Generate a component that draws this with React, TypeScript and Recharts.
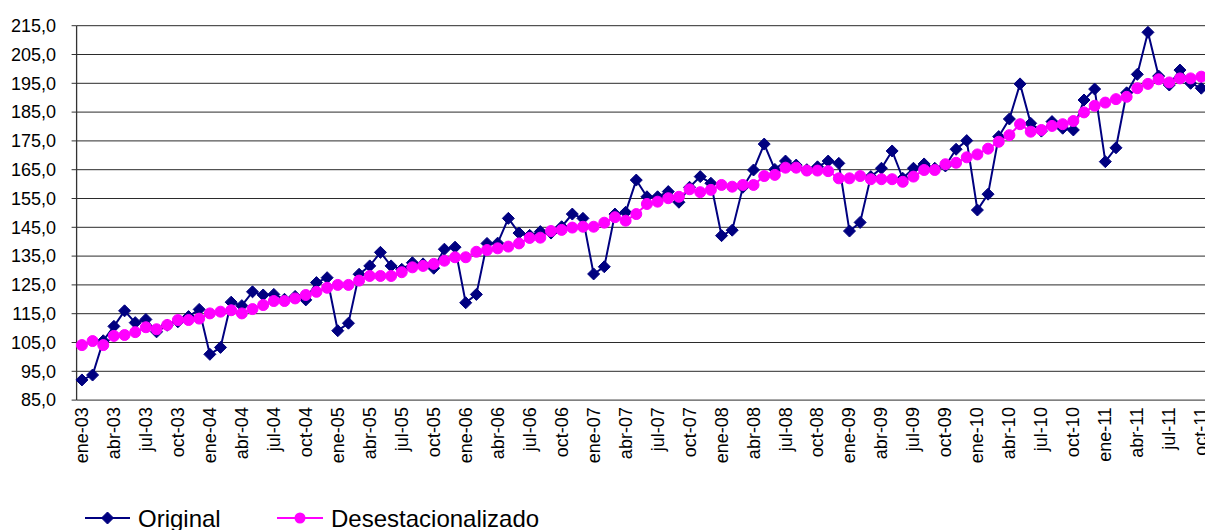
import { LineChart, Line, XAxis, YAxis, CartesianGrid } from 'recharts'

const MONTHS = ['ene', 'feb', 'mar', 'abr', 'may', 'jun', 'jul', 'ago', 'sep', 'oct', 'nov', 'dic']
const YEARS = ['03', '04', '05', '06', '07', '08', '09', '10', '11']

// ene-03 .. oct-11
const ORIGINAL = [
  92, 93.7, 105.6, 110.6, 116, 111.9, 113, 108.7, 111, 112.2, 114, 116.5,
  100.9, 103.3, 119, 117.8, 122.6, 121.5, 121.7, 120, 121, 119.8, 125.8, 127.5,
  109.1, 111.7, 128.7, 131.6, 136.3, 131.6, 130.4, 132.7, 132.3, 130.8, 137.4, 138.1,
  118.8, 121.7, 139.4, 139.5, 148.1, 143, 142.2, 143.5, 143, 145.2, 149.6, 148.1,
  128.8, 131.3, 149.6, 150.2, 161.4, 155.6, 155.6, 157.4, 153.7, 158.9, 162.6, 160.3,
  142.1, 144, 158.9, 164.9, 173.9, 165.1, 168, 166.6, 165, 166, 168, 167.2,
  143.7, 146.7, 162.6, 165.5, 171.5, 162, 165.5, 167, 165.5, 166.3, 172.1, 175.1,
  151, 156.5, 176.5, 182.6, 194.8, 181.1, 178.4, 181.7, 179.4, 178.8, 189.2, 193,
  167.8, 172.6, 191.7, 198.1, 212.7, 197.5, 194.4, 199.6, 195, 193.3,
]

const DESEST = [
  104.1, 105.5, 104.1, 107.3, 107.6, 108.6, 110.3, 109.6, 111.1, 112.8, 112.8, 113.3,
  115.1, 115.7, 116.2, 115.1, 116.6, 118, 119.4, 119.4, 120.3, 121.5, 122.6, 124,
  125, 125, 126.5, 128.1, 128.1, 128.1, 129.4, 131.1, 131.6, 132.3, 133.4, 134.6,
  134.6, 136.5, 137.1, 137.7, 138.3, 139.4, 141.3, 141.4, 143.7, 144.1, 144.9, 145.2,
  145.2, 146.6, 148.5, 147.3, 149.6, 153.1, 153.9, 155.1, 155.6, 158.2, 157.2, 158,
  159.7, 159.1, 159.7, 159.7, 162.8, 163.2, 165.7, 165.7, 164.7, 164.7, 164.5, 162,
  162, 162.8, 161.7, 161.7, 161.7, 160.8, 162.6, 164.9, 164.9, 166.9, 167.4, 169.3,
  170.3, 172.3, 174.7, 177, 180.8, 178.2, 178.8, 180.2, 180.8, 181.9, 184.9, 187.2,
  188.3, 189.5, 190.3, 193.3, 194.8, 196.4, 195.3, 196.7, 196.7, 197.3,
]

const Y_TICKS = [85, 95, 105, 115, 125, 135, 145, 155, 165, 175, 185, 195, 205, 215]

const CATEGORIES = YEARS.flatMap((y) => MONTHS.map((m) => `${m}-${y}`)).slice(0, ORIGINAL.length)

const NAVY = '#000080'
const MAGENTA = '#FF00FF'
const FONT = '"Liberation Sans", Arial, sans-serif'

const rows = CATEGORIES.map((c, i) => ({ idx: i, cat: c, original: ORIGINAL[i], desest: DESEST[i] }))
const lastIdx = rows.length - 1
const domainX: [number, number] = [-0.5, lastIdx + 0.5]
const boundaryTicks = Array.from({ length: rows.length + 1 }, (_, k) => k - 0.5)
const labelTicks = rows.filter((r) => r.idx % 3 === 0).map((r) => r.idx)

function Diamond(props: any) {
  const { cx, cy } = props
  if (cx == null || cy == null) return null
  const s = 6
  return (
    <path
      d={`M${cx},${cy - s}L${cx + s},${cy}L${cx},${cy + s}L${cx - s},${cy}Z`}
      fill={NAVY}
      stroke={NAVY}
      strokeWidth={1}
    />
  )
}

function BoundaryTick(props: any) {
  const { x, y, payload } = props
  const k = Math.round(payload.value + 0.5)
  const len = k % 3 === 0 ? 6 : 3
  return <line x1={x} x2={x} y1={y} y2={y + len} stroke="#333" strokeWidth={1} />
}

function MonthLabel(props: any) {
  const { x, y, payload } = props
  const label = CATEGORIES[payload.value] ?? ''
  const ty = y + 7
  return (
    <text
      x={x}
      y={ty}
      transform={`rotate(-90, ${x}, ${ty})`}
      textAnchor="end"
      dominantBaseline="central"
      fontSize={18}
      fill="#000"
    >
      {label}
    </text>
  )
}

export default function App() {
  return (
    <div
      style={{
        position: 'fixed',
        left: 0,
        top: 0,
        width: 1205,
        height: 530,
        overflow: 'hidden',
        background: '#fff',
        fontFamily: FONT,
      }}
    >
      <LineChart
        width={1215}
        height={530}
        data={rows}
        margin={{ top: 25.7, right: 8.4, bottom: 49.9, left: 0 }}
      >
        <CartesianGrid vertical={false} stroke="#2b2b2b" strokeWidth={1} />
        <XAxis
          dataKey="idx"
          type="number"
          domain={domainX}
          ticks={boundaryTicks}
          interval={0}
          tickLine={false}
          tickSize={0}
          tickMargin={0}
          height={0}
          axisLine={{ stroke: '#333', strokeWidth: 1.2 }}
          tick={<BoundaryTick />}
        />
        <XAxis
          xAxisId="lab"
          dataKey="idx"
          type="number"
          domain={domainX}
          ticks={labelTicks}
          interval={0}
          tickLine={false}
          axisLine={false}
          tickSize={0}
          tickMargin={0}
          height={80}
          tick={<MonthLabel />}
        />
        <YAxis
          type="number"
          domain={[85, 215]}
          ticks={Y_TICKS}
          interval={0}
          width={76.6}
          tickSize={5}
          tickMargin={15.6}
          tickLine={{ stroke: '#333' }}
          axisLine={{ stroke: '#333', strokeWidth: 1.3 }}
          tick={{ fontSize: 18, fill: '#000' }}
          tickFormatter={(v: number) => v.toFixed(1).replace('.', ',')}
        />
        <Line
          dataKey="original"
          name="Original"
          stroke={NAVY}
          strokeWidth={2}
          type="linear"
          dot={(p: any) => <Diamond key={`d-${p.index}`} cx={p.cx} cy={p.cy} />}
          activeDot={false}
          isAnimationActive={false}
        />
        <Line
          dataKey="desest"
          name="Desestacionalizado"
          stroke={MAGENTA}
          strokeWidth={2}
          type="linear"
          dot={{ r: 5.5, fill: MAGENTA, stroke: MAGENTA, strokeWidth: 1 }}
          activeDot={false}
          isAnimationActive={false}
        />
      </LineChart>

      <svg
        width={1205}
        height={530}
        style={{ position: 'absolute', left: 0, top: 0, pointerEvents: 'none' }}
      >
        <line x1={85} x2={130} y1={518} y2={518} stroke={NAVY} strokeWidth={2} />
        <Diamond cx={107.5} cy={518} />
        <text x={138} y={518} dominantBaseline="central" fontSize={24} fill="#000">
          Original
        </text>
        <line x1={277} x2={323} y1={518} y2={518} stroke={MAGENTA} strokeWidth={2} />
        <circle cx={300} cy={518} r={5.5} fill={MAGENTA} />
        <text x={331} y={518} dominantBaseline="central" fontSize={24} fill="#000">
          Desestacionalizado
        </text>
      </svg>
    </div>
  )
}
